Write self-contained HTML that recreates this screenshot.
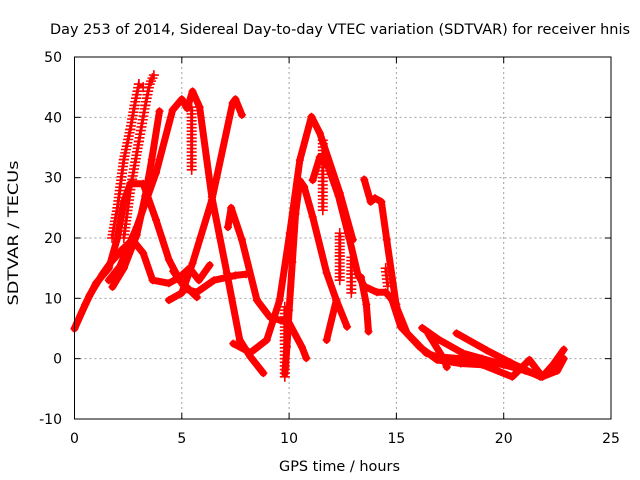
<!DOCTYPE html>
<html><head><meta charset="utf-8"><style>
html,body{margin:0;padding:0;background:#fff;}
svg{display:block;font-family:"DejaVu Sans","Liberation Sans",sans-serif;}
</style></head><body>
<svg id="chart" width="640" height="480" viewBox="0 0 640 480">
<rect x="0" y="0" width="640" height="480" fill="#fff"/>
<g id="grid"></g>
<g id="series"></g>
<g id="axes"></g>
<text x="50" y="34" font-size="14" textLength="580" lengthAdjust="spacingAndGlyphs" fill="#000">Day 253 of 2014, Sidereal Day-to-day VTEC variation (SDTVAR) for receiver hnis</text>
<text x="279" y="471" font-size="14" textLength="121" lengthAdjust="spacingAndGlyphs" fill="#000">GPS time / hours</text>
<text x="0" y="0" font-size="14" textLength="145" lengthAdjust="spacingAndGlyphs" text-anchor="middle" fill="#000" transform="translate(18,233) rotate(-90)">SDTVAR / TECUs</text>
</svg>
<script>
const xTicks=[0,5,10,15,20,25];
const yTicks=[-10,0,10,20,30,40,50];
const lineTracks=[
[[0,5],[0.5,9],[1,12.5],[1.6,15],[2.0,20],[2.3,26],[2.6,29],[3.2,29],[3.8,23],[4.4,16.4],[4.9,13],[5.7,10.2]],
[[0,5],[0.7,10.5],[1.3,14],[1.7,16],[2.2,18],[2.7,19.7],[3.2,17.5],[3.64,13],[4.4,12.5],[4.9,13.5],[5.36,15],[5.8,13],[6.3,15.5]],
[[1.6,13],[2.1,15.2],[2.9,21.8],[3.8,30.8],[4.57,41.2],[5.0,43],[5.25,41.5],[5.5,44.3],[5.83,41.7],[6.4,26.8],[7.1,14.2],[7.7,3.1],[8.2,0.3],[8.8,-2.4]],
[[1.77,11.9],[2.3,15],[2.9,20.5],[3.3,27],[3.6,33],[3.96,41]],
[[4.4,9.7],[5.0,10.9],[5.5,15.8],[6.4,26.3],[7.37,42.4],[7.5,43],[7.8,40.4]],
[[4.6,14.5],[5.2,11.5],[5.7,11],[6.5,13],[7.5,13.8],[8,14]],
[[7.15,21.8],[7.3,25],[7.8,19.7],[8.5,9.7],[9.1,6.9],[10.0,5.9],[10.6,1.9],[10.8,0.1]],
[[7.4,2.5],[8.2,1],[8.96,3.1],[9.56,9.7],[10.03,20.8],[10.5,32.9],[11.04,40.1],[11.43,37.4],[12.36,27.5],[12.97,19.7]],
[[9.8,-2.5],[9.9,2],[10.0,8],[10.15,16],[10.3,24],[10.5,29.5],[10.7,28.5],[11.1,23.5],[11.75,14.2],[12.2,9.7],[12.7,5.3]],
[[11.1,29.6],[11.43,33.4],[11.8,32],[12.3,27],[12.8,20],[13.2,14],[13.5,12],[14.1,11],[14.5,11],[15,9]],
[[11.75,3.1],[12.2,9.7]],
[[13.35,13.5],[13.6,9],[13.7,4.5]],
[[13.5,29.7],[13.8,26],[14.0,26.6],[14.3,26],[14.55,19.7],[15.0,8.6],[15.5,4.2],[16.4,0.9],[16.9,0.3],[18,0],[19,-0.5],[20,-1],[21,-2],[21.8,-3],[22.3,-1],[22.8,1.5]],
[[14.8,9.7],[15.2,5.3],[16.1,1.9],[16.9,-0.2],[18,-0.8],[19,-1],[20.4,-3],[21.2,-0.2],[21.8,-3],[22.5,-2],[22.8,0]],
[[16.2,5.1],[17.0,3.1],[18.1,0.9],[19,0],[20,-1]],
[[17.8,4.2],[19.2,1.4],[20.4,-0.8],[21.7,-3]],
[[16.5,4],[17.2,0],[17.35,-1.4]]
];
const markerTracks=[
[[1.75,20],[2.0,25],[2.3,33],[2.6,38],[2.8,42],[3.0,45.5],[3.2,45]],
[[2.3,20],[2.6,28],[3.0,36],[3.3,42],[3.5,45.5],[3.7,47]],
[[5.46,41.7],[5.46,36],[5.46,31.3]],
[[11.57,36.2],[11.57,30],[11.57,24.6]],
[[12.36,20.8],[12.36,17],[12.36,13]],
[[12.9,16.8],[12.9,14],[12.9,10.9]],
[[9.8,8.6],[9.8,3],[9.8,-3]],
[[14.5,15],[14.6,12]]
];
const NS="http://www.w3.org/2000/svg";
const X0=74.5,X1=611,Y0=419,Y1=57;
function sx(v){return X0+(v-0)/(25-0)*(X1-X0);}
function sy(v){return Y0-(v+10)/(60)*(Y0-Y1);}
function mk(tag,attrs,parent){const e=document.createElementNS(NS,tag);for(const k in attrs)e.setAttribute(k,attrs[k]);parent.appendChild(e);return e;}
const grid=document.getElementById('grid'),axes=document.getElementById('axes'),series=document.getElementById('series');
xTicks.forEach(t=>{
 const x=sx(t);
 if(t>0&&t<25){const g=mk('line',{x1:x,y1:Y1,x2:x,y2:Y0,stroke:'#a0a0a0','stroke-width':1,'stroke-dasharray':'2,3'},grid);
 
 }
 mk('line',{x1:x,y1:Y0,x2:x,y2:Y0-6,stroke:'#000'},axes);
 mk('line',{x1:x,y1:Y1,x2:x,y2:Y1+6,stroke:'#000'},axes);
 const tx=mk('text',{x:x,y:443,'font-size':14,'text-anchor':'middle',fill:'#000'},axes);
 tx.textContent=t;
 
 
});
yTicks.forEach(t=>{
 const y=sy(t);
 if(t>-10&&t<50){const g=mk('line',{x1:X0,y1:y,x2:X1,y2:y,stroke:'#a0a0a0','stroke-width':1,'stroke-dasharray':'2,3'},grid);
 
 }
 mk('line',{x1:X0,y1:y,x2:X0+6,y2:y,stroke:'#000'},axes);
 mk('line',{x1:X1,y1:y,x2:X1-6,y2:y,stroke:'#000'},axes);
 const tx=mk('text',{x:62,y:y+5,'font-size':14,'text-anchor':'end',fill:'#000'},axes);
 tx.textContent=t;
 
 
});
const frame=mk('rect',{x:X0,y:Y1,width:X1-X0,height:Y0-Y1,fill:'none',stroke:'#000','stroke-width':1},axes);


function plus(x,y,s,w){mk('path',{d:`M${x-s},${y}H${x+s}M${x},${y-s}V${y+s}`,stroke:'#f00','stroke-width':w,fill:'none'},series);}
lineTracks.forEach(tr=>{
 const p=mk('polyline',{points:tr.map(d=>sx(d[0])+','+sy(d[1])).join(' '),fill:'none',stroke:'#f00','stroke-width':7,'stroke-linejoin':'round','stroke-linecap':'round'},series);
 
 
 tr.forEach(d=>plus(sx(d[0]),sy(d[1]),4,1.5));
});
markerTracks.forEach(tr=>{
 const p=mk('polyline',{points:tr.map(d=>sx(d[0])+','+sy(d[1])).join(' '),fill:'none',stroke:'#f00','stroke-width':3},series);
 
 
 for(let i=0;i<tr.length-1;i++){
  const a=tr[i],b=tr[i+1];
  const y0=sy(a[1]),y1=sy(b[1]),x0=sx(a[0]),x1=sx(b[0]);
  const n=Math.max(1,Math.round(Math.abs(y1-y0)/3.5));
  for(let k=0;k<=n;k++){plus(x0+(x1-x0)*k/n,y0+(y1-y0)*k/n,5,1.6);}
 }
});
</script>
</body></html>
